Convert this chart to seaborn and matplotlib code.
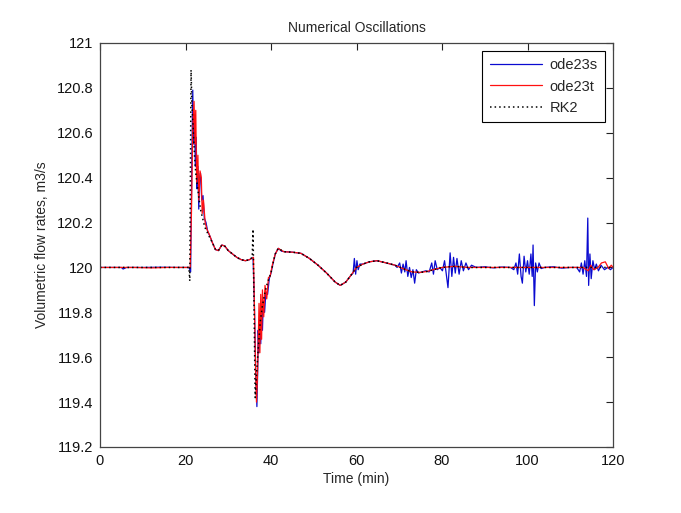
import matplotlib
matplotlib.use("Agg")
import matplotlib.pyplot as plt
import seaborn as sns
import pandas as pd

# ---------------- data ----------------
t_ode23s = [0, 3, 5.0, 5.4, 6.2, 10, 14, 18, 20.8,
            21.0, 21.2, 21.5, 21.7, 21.9, 22.1, 22.3, 22.5, 22.7, 22.9, 23.1, 23.3, 23.5, 23.8, 24.1, 24.4, 24.8,
            25.2, 25.7, 26.3, 27, 27.7, 28.5, 29.2, 30, 31, 32, 33, 34, 35, 35.8,
            36.1, 36.4, 36.7, 36.9, 37.0, 37.2, 37.4, 37.6, 37.8, 38.0, 38.2, 38.5, 38.8, 39.2, 39.6, 40, 40.5, 41,
            41.7, 42.5, 43.5, 45, 47, 49, 51, 53, 55, 56.2, 57.5, 58.5, 59.2, 59.5, 59.8, 60.1, 60.4, 60.8, 61.5,
            63, 64.8, 67, 69, 69.5, 70.1, 70.5, 70.9, 71.3, 71.6, 72.0, 72.4, 72.8, 73.2, 73.6, 74.0, 74.5, 75.3,
            76.2, 77.0, 77.6, 78.0, 78.4, 78.9, 79.5, 80.1, 80.6, 81.0, 81.4, 81.9, 82.3, 82.7, 83.1, 83.5, 84.0,
            84.5, 85.0, 85.6, 86.2, 86.9, 88, 90, 92, 94, 96, 96.8, 97.3, 97.7, 98.1, 98.5, 98.8, 99.2, 99.6,
            100.0, 100.4, 100.8, 101.1, 101.3, 101.6, 101.9, 102.3, 102.7, 103.2, 104, 106, 108, 110, 111.5,
            112.2, 112.6, 113.0, 113.4, 113.8, 114.1, 114.3, 114.6, 114.9, 115.3, 115.7, 116.1, 116.6, 117.2,
            118, 118.8, 119.4, 120]
q_ode23s = [120.0, 120.0, 120.0, 119.993, 120.0, 120.0, 120.001, 120.0, 120.0,
            119.99, 119.98, 120.5, 120.79, 120.55, 120.68, 120.45, 120.58, 120.35, 120.45, 120.26, 120.40, 120.42,
            120.30, 120.32, 120.22, 120.20,
            120.16, 120.14, 120.11, 120.08, 120.075, 120.10, 120.095, 120.075, 120.06, 120.045, 120.035, 120.03,
            120.035, 120.045,
            119.85, 119.55, 119.38, 119.55, 119.72, 119.62, 119.78, 119.66, 119.82, 119.72, 119.85, 119.80, 119.89,
            119.88, 119.95, 119.975, 120.02, 120.06,
            120.085, 120.072, 120.07, 120.068, 120.063, 120.04, 120.01, 119.975, 119.935, 119.92, 119.935, 119.96,
            119.975, 120.04, 119.97, 120.03, 119.99, 120.015, 120.015,
            120.025, 120.03, 120.02, 120.01, 120.0, 120.02, 119.975, 120.015, 119.98, 120.03, 119.96, 120.0,
            119.955, 119.99, 119.93, 119.99, 119.975, 119.98,
            119.985, 119.98, 120.02, 119.97, 120.03, 119.99, 120.0, 119.985, 120.03, 119.97, 119.91, 120.065,
            119.96, 120.045, 119.975, 120.04, 119.97,
            120.03, 119.985, 120.02, 119.99, 120.01, 120.0, 120.003, 119.998, 120.002, 120.0, 119.99, 120.02,
            119.97, 120.06, 119.96, 119.93, 120.05, 119.98,
            120.03, 119.97, 120.06, 119.96, 120.10, 119.83, 120.02, 119.98, 120.02, 119.995, 120.0, 120.003,
            119.997, 120.0, 120.0,
            119.98, 120.02, 119.97, 120.03, 119.96, 120.22, 119.92, 120.06, 119.95, 120.03, 119.99, 120.015,
            119.985, 120.01,
            119.99, 120.0, 119.99, 120.0]

t_ode23t = [0, 4, 8, 12, 16, 20.8, 21.1, 21.4, 21.7, 22.0, 22.2, 22.4, 22.6, 22.9, 23.1, 23.4, 23.7, 23.9, 24.2,
            24.6, 25.0, 25.5, 26.3, 27, 27.7, 28.5, 29.2, 30, 31, 32, 33, 34, 35, 35.9, 36.2, 36.4, 36.6, 36.8,
            37.0, 37.2, 37.4, 37.6, 37.8, 38.0, 38.3, 38.6, 39.0, 39.4, 39.8, 40.3, 41, 41.7, 43, 45, 47, 49, 51,
            53, 55, 56.2, 57.5, 58.5, 60, 61.5, 63, 64.8, 67, 69, 71.5, 73, 75, 76.5, 78, 80, 83, 86, 90, 95, 100,
            105, 110, 113, 114.2, 114.8, 115.5, 116.5, 117.3, 118.2, 119.0, 119.6, 120]
q_ode23t = [120.0, 120.0, 120.0, 119.998, 120.0, 120.0, 120.0, 120.25, 120.62, 120.74, 120.55, 120.70, 120.38,
            120.50, 120.30, 120.43, 120.40, 120.24, 120.30,
            120.20, 120.17, 120.15, 120.11, 120.08, 120.075, 120.10, 120.095, 120.075, 120.06, 120.045, 120.035,
            120.03, 120.035, 120.045, 119.75, 119.55, 119.40, 119.50,
            119.66, 119.84, 119.62, 119.88, 119.68, 119.90, 119.78, 119.92, 119.86, 119.955, 119.96, 120.01,
            120.06, 120.085, 120.07, 120.068, 120.063, 120.04, 120.01,
            119.975, 119.935, 119.92, 119.935, 119.96, 120.0, 120.015, 120.025, 120.03, 120.02, 120.01, 119.99,
            119.98, 119.978, 119.982, 119.99, 120.0, 120.005, 120.0, 120.0, 120.0, 120.0,
            120.0, 120.0, 120.0, 119.985, 120.01, 119.99, 120.0, 120.02, 120.025, 119.995, 120.01, 120.0]

t_rk2 = [0, 5, 10, 15, 20.8, 21.0, 21.3, 21.5, 21.8, 22.1, 22.4, 22.8, 23.2, 23.6, 24.0, 24.5, 25.0, 25.5, 26.3,
         27, 27.7, 28.5, 29.2, 30, 31, 32, 33, 34, 35, 35.6, 35.8, 36.3, 36.7, 37.1, 37.5, 38, 38.5, 39, 39.5,
         40, 40.5, 41, 41.7, 43, 45, 47, 49, 51, 53, 55, 56.2, 57.5, 58.5, 60, 61.5, 63, 64.8, 67, 69, 71.5, 73,
         75, 76.5, 78, 80, 83, 86, 90, 100, 110, 120]
q_rk2 = [120.0, 120.0, 120.0, 120.0, 120.0, 119.94, 120.88, 120.72, 120.62, 120.50, 120.42, 120.36, 120.30,
         120.25, 120.22, 120.18, 120.16, 120.14, 120.11,
         120.08, 120.075, 120.10, 120.095, 120.075, 120.06, 120.045, 120.035, 120.03, 120.035, 120.045, 120.17,
         119.42, 119.55, 119.66, 119.76, 119.83, 119.88, 119.92, 119.95,
         119.975, 120.02, 120.06, 120.085, 120.07, 120.068, 120.063, 120.04, 120.01, 119.975, 119.935, 119.92,
         119.935, 119.96, 120.0, 120.015, 120.025, 120.03, 120.02, 120.01, 119.99, 119.98,
         119.978, 119.982, 119.99, 120.0, 120.005, 120.0, 120.0, 120.0, 120.0, 120.0]

x_ticks = [0, 20, 40, 60, 80, 100, 120]
y_ticks = [119.2, 119.4, 119.6, 119.8, 120.0, 120.2, 120.4, 120.6, 120.8, 121.0]
y_tick_labels = ["119.2", "119.4", "119.6", "119.8", "120", "120.2", "120.4", "120.6", "120.8", "121"]

df_s = pd.DataFrame({"t": t_ode23s, "q": q_ode23s})
df_t = pd.DataFrame({"t": t_ode23t, "q": q_ode23t})
df_r = pd.DataFrame({"t": t_rk2, "q": q_rk2})

# ---------------- style ----------------
sns.set_style("white")
plt.rcParams["font.family"] = ["Liberation Sans", "DejaVu Sans"]

fig = plt.figure(figsize=(6.81, 5.13), dpi=100)
fig.patch.set_facecolor("white")
ax = fig.add_axes([100 / 681, 66 / 513, 513 / 681, 404 / 513])

sns.lineplot(data=df_s, x="t", y="q", ax=ax, color="#0a0ad0", lw=0.9,
             estimator=None, sort=False, label="ode23s")
sns.lineplot(data=df_t, x="t", y="q", ax=ax, color="#ff1010", lw=0.9,
             estimator=None, sort=False, label="ode23t")
sns.lineplot(data=df_r, x="t", y="q", ax=ax, color="black", lw=1.1,
             estimator=None, sort=False, label="RK2", linestyle=(0, (1, 2)))

ax.set_xlim(0, 120)
ax.set_ylim(119.2, 121)
ax.set_xticks(x_ticks)
ax.set_xticklabels([str(v) for v in x_ticks])
ax.set_yticks(y_ticks)
ax.set_yticklabels(y_tick_labels)
ax.tick_params(direction="in", top=True, right=True, length=5, width=0.8,
               labelsize=10.5, colors="#222222", labelcolor="#111111", pad=5)
for s in ax.spines.values():
    s.set_color("#444444")
    s.set_linewidth(0.9)

ax.set_xlabel("Time (min)", fontsize=10, labelpad=3)
ax.set_ylabel("Volumetric flow rates, m3/s", fontsize=10, labelpad=5)
ax.set_title("Numerical Oscillations", fontsize=10, pad=8)

leg = ax.legend(loc="upper right", fontsize=10.5, frameon=True, fancybox=False,
                handlelength=3.6, labelspacing=0.5, borderpad=0.5,
                handletextpad=0.5, borderaxespad=0.55)
leg.get_frame().set_edgecolor("black")
leg.get_frame().set_linewidth(0.8)
leg.get_frame().set_alpha(1)

fig.savefig("out.png", dpi=100, facecolor="white")
